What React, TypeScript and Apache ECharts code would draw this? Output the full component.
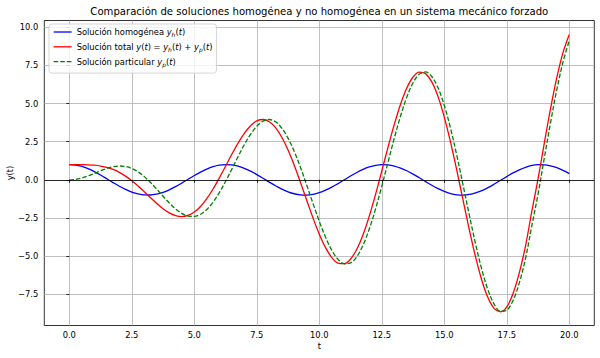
import React, { useEffect, useRef } from "react";
import * as echarts from "echarts";

const T = [0, 0.25, 0.5, 0.75, 1, 1.25, 1.5, 1.75, 2, 2.25, 2.5, 2.75, 3, 3.25, 3.5, 3.75, 4, 4.25, 4.5, 4.75, 5, 5.25, 5.5, 5.75, 6, 6.25, 6.5, 6.75, 7, 7.25, 7.5, 7.75, 8, 8.25, 8.5, 8.75, 9, 9.25, 9.5, 9.75, 10, 10.25, 10.5, 10.75, 11, 11.25, 11.5, 11.75, 12, 12.25, 12.5, 12.75, 13, 13.25, 13.5, 13.75, 14, 14.25, 14.5, 14.75, 15, 15.25, 15.5, 15.75, 16, 16.25, 16.5, 16.75, 17, 17.25, 17.5, 17.75, 18, 18.25, 18.5, 18.75, 19, 19.25, 19.5, 19.75, 20];

const homogenea = [1.0, 0.969, 0.878, 0.732, 0.54, 0.315, 0.071, -0.178, -0.416, -0.628, -0.801, -0.924, -0.99, -0.994, -0.936, -0.821, -0.654, -0.446, -0.211, 0.038, 0.284, 0.512, 0.709, 0.861, 0.96, 0.999, 0.977, 0.893, 0.754, 0.568, 0.347, 0.104, -0.146, -0.386, -0.602, -0.781, -0.911, -0.985, -0.997, -0.948, -0.839, -0.678, -0.476, -0.243, 0.004, 0.252, 0.483, 0.685, 0.844, 0.95, 0.998, 0.983, 0.907, 0.775, 0.595, 0.378, 0.137, -0.113, -0.355, -0.575, -0.76, -0.897, -0.979, -0.999, -0.958, -0.857, -0.702, -0.505, -0.275, -0.029, 0.215, 0.454, 0.66, 0.826, 0.945, 0.995, 0.989, 0.921, 0.796, 0.621, 0.408];

const particular = [0, 0.031, 0.12, 0.256, 0.421, 0.593, 0.748, 0.861, 0.909, 0.875, 0.748, 0.525, 0.212, -0.176, -0.614, -1.072, -1.514, -1.902, -2.199, -2.373, -2.397, -2.255, -1.94, -1.461, -0.838, -0.104, 0.699, 1.519, 2.3, 2.984, 3.518, 3.854, 3.958, 3.806, 3.394, 2.734, 1.855, 0.804, -0.357, -1.558, -2.72, -3.765, -4.618, -5.214, -5.5, -5.444, -5.034, -4.281, -3.22, -1.906, -0.414, 1.164, 2.731, 4.184, 5.426, 6.366, 6.934, 7.079, 6.778, 6.033, 4.877, 3.372, 1.6, -0.331, -2.303, -4.192, -5.877, -7.232, -8.172, -8.622, -8.545, -7.908, -6.759, -5.149, -3.014, -0.932, 1.424, 3.752, 5.904, 7.738, 9.129];

const total = [1.0, 1.0, 0.998, 0.987, 0.961, 0.908, 0.819, 0.683, 0.493, 0.247, -0.053, -0.399, -0.778, -1.17, -1.551, -1.893, -2.168, -2.348, -2.41, -2.335, -2.113, -1.743, -1.231, -0.6, 0.122, 0.896, 1.676, 2.412, 3.054, 3.552, 3.865, 3.958, 3.813, 3.42, 2.792, 1.953, 0.944, -0.181, -1.354, -2.506, -3.559, -4.443, -5.094, -5.457, -5.496, -5.192, -4.551, -3.596, -2.376, -0.956, 0.584, 2.147, 3.638, 4.959, 6.021, 6.744, 7.071, 6.966, 6.423, 5.458, 4.117, 2.475, 0.622, -1.33, -3.261, -5.049, -6.579, -7.737, -8.447, -8.651, -8.33, -7.454, -6.099, -4.323, -2.069, 0.063, 2.413, 4.673, 6.7, 8.359, 9.537];

const xTickValues = [0, 2.5, 5, 7.5, 10, 12.5, 15, 17.5, 20];
const xTickLabels = ["0.0", "2.5", "5.0", "7.5", "10.0", "12.5", "15.0", "17.5", "20.0"];
const yTickValues = [-7.5, -5, -2.5, 0, 2.5, 5, 7.5, 10];
const yTickLabels = ["\u22127.5", "\u22125.0", "\u22122.5", "0.0", "2.5", "5.0", "7.5", "10.0"];

const TITLE = "Comparación de soluciones homogénea y no homogénea en un sistema mecánico forzado";
const NAME_H = "Solución homogénea yh(t)";
const NAME_T = "Solución total y(t) = yh(t) + yp(t)";
const NAME_P = "Solución particular yp(t)";

const FONT = "DejaVu Sans";

function pairs(ys: number[]) {
  return T.map((t, i) => [t, ys[i]]);
}

const legendRich: Record<string, string> = {
  [NAME_H]: "{n|Solución homogénea }{i|y}{s|h}{n|(}{i|t}{n|)}",
  [NAME_T]: "{n|Solución total }{i|y}{n|(}{i|t}{n|) = }{i|y}{s|h}{n|(}{i|t}{n|) + }{i|y}{s|p}{n|(}{i|t}{n|)}",
  [NAME_P]: "{n|Solución particular }{i|y}{s|p}{n|(}{i|t}{n|)}",
};

export default function App() {
  const ref = useRef<HTMLDivElement>(null);
  useEffect(() => {
    if (!ref.current) return;
    const chart = echarts.init(ref.current, undefined, { renderer: "svg" });
    const lineW = 1.3;
    chart.setOption({
      animation: false,
      backgroundColor: "#ffffff",
      textStyle: { fontFamily: FONT },
      graphic: [
        {
          type: "text",
          x: 319.3,
          y: 11,
          style: {
            text: TITLE,
            font: `10.1px "${FONT}"`,
            fill: "#000",
            textAlign: "center",
            textVerticalAlign: "middle",
          },
        },
      ],
      grid: {
        left: 44.3,
        top: 20.5,
        width: 550,
        height: 305,
        show: true,
        borderColor: "#000",
        borderWidth: 0.8,
        backgroundColor: "transparent",
        containLabel: false,
        outerBoundsMode: "none",
      },
      legend: {
        orient: "vertical",
        left: 49,
        top: 24,
        padding: [4, 4, 6, 4],
        itemWidth: 18,
        itemHeight: 8,
        itemGap: 5.3,
        backgroundColor: "rgba(255,255,255,0.8)",
        borderColor: "#cccccc",
        borderWidth: 0.8,
        borderRadius: 3,
        itemStyle: { opacity: 0 },
        lineStyle: { width: lineW },
        data: [NAME_H, NAME_T, NAME_P],
        formatter: (name: string) => legendRich[name] || name,
        textStyle: {
          fontFamily: FONT,
          fontSize: 8.33,
          color: "#000",
          rich: {
            n: { fontFamily: FONT, fontSize: 8.33, color: "#000", lineHeight: 11 },
            i: { fontFamily: FONT, fontSize: 8.33, color: "#000", fontStyle: "italic", lineHeight: 11 },
            s: { fontFamily: FONT, fontSize: 6, color: "#000", fontStyle: "italic", verticalAlign: "bottom", lineHeight: 8 },
          },
        },
      },
      xAxis: {
        type: "value",
        min: -1,
        max: 21,
        name: "t",
        nameLocation: "middle",
        nameGap: 16,
        nameMoveOverlap: false,
        nameTextStyle: { fontFamily: FONT, fontSize: 8.33, color: "#000" },
        axisLine: { show: false },
        axisTick: {
          show: true,
          length: 3,
          lineStyle: { color: "#000", width: 0.8 },
          customValues: xTickValues,
        },
        axisLabel: {
          customValues: xTickValues,
          margin: 5.5,
          fontFamily: FONT,
          fontSize: 8.33,
          color: "#000",
          formatter: (v: number) => {
            const i = xTickValues.findIndex((x) => Math.abs(x - v) < 1e-6);
            return i >= 0 ? xTickLabels[i] : "";
          },
        },
        splitLine: { show: true, lineStyle: { color: "#b0b0b0", width: 0.8 } },
      },
      yAxis: {
        type: "value",
        min: -9.55,
        max: 10.45,
        name: "y(t)",
        nameLocation: "middle",
        nameRotate: 90,
        nameGap: 30,
        nameMoveOverlap: false,
        nameTextStyle: { fontFamily: FONT, fontSize: 8.33, color: "#000" },
        axisLine: { show: false },
        axisTick: {
          show: true,
          length: 3,
          lineStyle: { color: "#000", width: 0.8 },
          customValues: yTickValues,
        },
        axisLabel: {
          customValues: yTickValues,
          margin: 6,
          fontFamily: FONT,
          fontSize: 8.33,
          color: "#000",
          formatter: (v: number) => {
            const i = yTickValues.findIndex((x) => Math.abs(x - v) < 1e-6);
            return i >= 0 ? yTickLabels[i] : "";
          },
        },
        splitLine: { show: true, lineStyle: { color: "#b0b0b0", width: 0.8 } },
      },
      series: [
        {
          name: NAME_H,
          type: "line",
          data: pairs(homogenea),
          smooth: 0.35,
          symbol: "none",
          lineStyle: { color: "#0000ff", width: lineW },
          itemStyle: { color: "#0000ff" },
          markLine: {
            silent: true,
            symbol: "none",
            label: { show: false },
            lineStyle: { color: "#000", width: 0.8, type: "solid" },
            data: [{ yAxis: 0 }],
          },
        },
        {
          name: NAME_T,
          type: "line",
          data: pairs(total),
          smooth: 0.35,
          symbol: "none",
          lineStyle: { color: "#ff0000", width: lineW },
          itemStyle: { color: "#ff0000" },
        },
        {
          name: NAME_P,
          type: "line",
          data: pairs(particular),
          smooth: 0.35,
          symbol: "none",
          lineStyle: { color: "#008000", width: lineW, type: [4.6, 2] },
          itemStyle: { color: "#008000" },
        },
      ],
    });
    return () => chart.dispose();
  }, []);
  return (
    <div
      ref={ref}
      style={{ position: "fixed", left: 0, top: 0, width: 600, height: 358, background: "#fff" }}
    />
  );
}
